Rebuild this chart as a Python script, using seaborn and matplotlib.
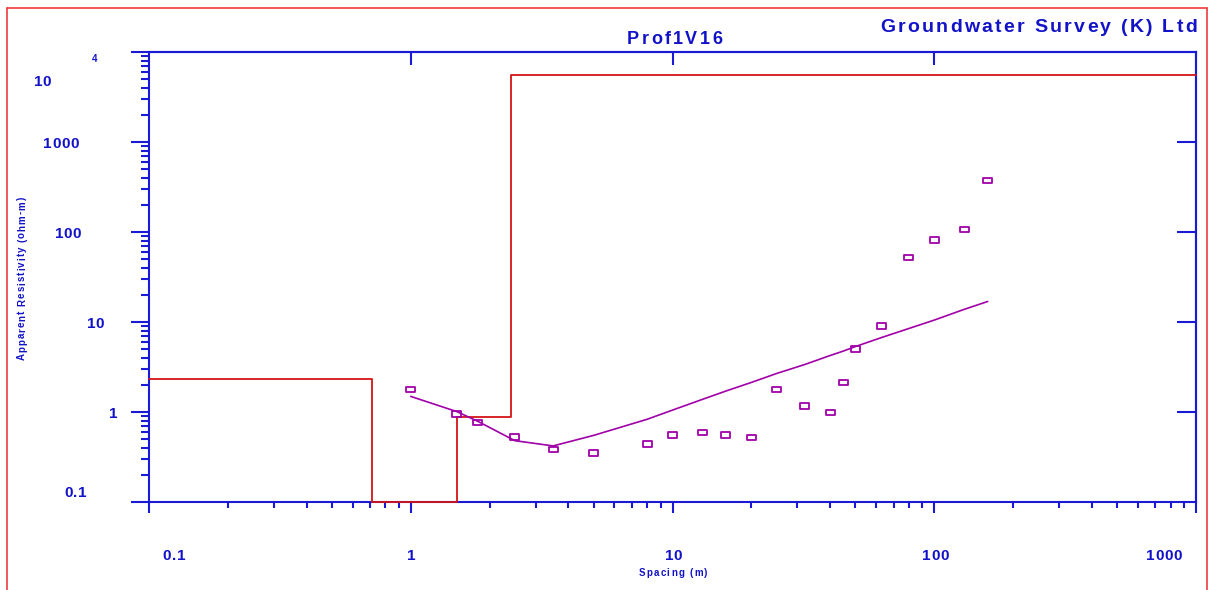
import matplotlib
matplotlib.use("Agg")
import matplotlib.pyplot as plt
from matplotlib.path import Path
from matplotlib.lines import Line2D
from matplotlib.ticker import FixedLocator, NullLocator, LogLocator
from matplotlib.font_manager import FontProperties
import seaborn as sns

# Sounding observations: electrode spacing (m) and apparent resistivity (ohm-m)
spacing = [1, 1.5, 1.8, 2.5, 3.5, 5, 8, 10, 13, 16, 20, 25, 32, 40, 45, 50, 63, 80, 100, 130, 160]
observed = [1.79, 0.95, 0.77, 0.53, 0.385, 0.35, 0.44, 0.555, 0.595, 0.555, 0.52,
            1.79, 1.16, 0.98, 2.12, 5.0, 9.0, 51.8, 81.5, 106, 371]
# Calculated response of the layered model at the same spacings
model_response = [1.49, 1.01, 0.79, 0.48, 0.42, 0.55, 0.83, 1.05, 1.38, 1.71, 2.13,
                  2.68, 3.37, 4.24, 4.76, 5.34, 6.73, 8.47, 10.5, 13.8, 16.9]
# Layered earth model: top depth of each layer (m) and its resistivity (ohm-m)
layer_top = [0.1, 0.71, 1.5, 2.42, 1000]
layer_res = [2.33, 0.1, 0.89, 5550, 5550]

x_ticks = [0.1, 1, 10, 100, 1000]
x_tick_labels = ["0.1", "1", "10", "100", "1000"]
y_ticks = [0.1, 1, 10, 100, 1000, 10000]
y_tick_labels = ["0.1", "1", "10", "100", "1000", "10"]

title = "Prof1V16"
company = "Groundwater Survey (K) Ltd"
x_label = "Spacing (m)"
y_label = "Apparent Resistivity (ohm-m)"

BLUE = "#1a1ad6"
TEXT_BLUE = "#1212c8"
RED = "#d41414"
FRAME_RED = "#ee3b3b"
PURPLE = "#a000a8"
FONT = "Liberation Sans"

sns.set_style("white")
plt.rcParams["font.family"] = [FONT, "DejaVu Sans"]

W, H = 1209, 590
fig = plt.figure(figsize=(W / 100, H / 100), dpi=100)
ax = fig.add_axes([149 / W, 1 - 502 / H, (1196 - 149) / W, (502 - 52) / H])
ax.set_xscale("log")
ax.set_yscale("log")
ax.set_xlim(0.1, 1000)
ax.set_ylim(0.1, 10000)

# layered model as a step curve
sns.lineplot(x=layer_top, y=layer_res, drawstyle="steps-post", color=RED, linewidth=1.3,
             estimator=None, sort=False, ax=ax, clip_on=False, zorder=4)
# model response curve
sns.lineplot(x=spacing, y=model_response, color=PURPLE, linewidth=1.2,
             estimator=None, sort=False, ax=ax, zorder=4)
# observed points as small hollow rectangles
rect = Path([(-1, -0.6), (1, -0.6), (1, 0.6), (-1, 0.6), (-1, -0.6)],
            [Path.MOVETO, Path.LINETO, Path.LINETO, Path.LINETO, Path.CLOSEPOLY])
sns.scatterplot(x=spacing, y=observed, marker=rect, s=42, facecolor="none",
                edgecolor=PURPLE, linewidth=1.3, ax=ax, zorder=5)

# axes frame and ticks
for sp in ax.spines.values():
    sp.set_color(BLUE)
    sp.set_linewidth(1.5)
ax.xaxis.set_major_locator(FixedLocator(x_ticks))
ax.yaxis.set_major_locator(FixedLocator(y_ticks))
ax.xaxis.set_minor_locator(LogLocator(base=10, subs=range(2, 10), numticks=20))
ax.yaxis.set_minor_locator(LogLocator(base=10, subs=range(2, 10), numticks=20))
ax.tick_params(which="both", bottom=True, left=True, top=False, right=False,
               labelbottom=False, labelleft=False, direction="out", color=BLUE, width=1.5)
ax.tick_params(axis="x", which="major", length=8)
ax.tick_params(axis="x", which="minor", length=4.5)
ax.tick_params(axis="y", which="major", length=13)
ax.tick_params(axis="y", which="minor", length=6)
ax.grid(False)

top = ax.secondary_xaxis("top")
top.set_xticks([1, 10, 100])
top.xaxis.set_minor_locator(NullLocator())
top.tick_params(axis="x", which="both", top=True, direction="in", length=9, width=1.5,
                color=BLUE, labeltop=False, labelbottom=False)
top.spines["top"].set_color(BLUE)
top.spines["top"].set_linewidth(1.5)

right = ax.secondary_yaxis("right")
right.set_yticks([1, 10, 100, 1000])
right.yaxis.set_minor_locator(NullLocator())
right.tick_params(axis="y", which="both", right=True, direction="in", length=14, width=1.5,
                  color=BLUE, labelright=False, labelleft=False)
right.spines["right"].set_color(BLUE)
right.spines["right"].set_linewidth(1.5)

fig.canvas.draw()
renderer = fig.canvas.get_renderer()


def tracked_text(s, x, y, size, track=None, width=None, align="left", rotation=0,
                 color=TEXT_BLUE):
    """Draw bold text with extra letter spacing; x, y in pixels from the top-left."""
    prop = FontProperties(family=FONT, weight="bold", size=size)
    base = renderer.get_text_width_height_descent("||", prop, ismath=False)[0]
    adv = [renderer.get_text_width_height_descent("|" + ch + "|", prop, ismath=False)[0] - base
           for ch in s]
    if width is not None:
        track = (width - sum(adv)) / max(len(s) - 1, 1)
    track = track or 0
    total = sum(adv) + track * (len(s) - 1)
    pos = {"left": 0, "center": -total / 2, "right": -total}[align]
    for ch, a in zip(s, adv):
        if ch != " ":
            if rotation == 0:
                fig.text((x + pos) / W, 1 - y / H, ch, fontproperties=prop, color=color,
                         ha="left", va="baseline")
            else:
                fig.text(x / W, 1 - (y - pos) / H, ch, fontproperties=prop, color=color,
                         rotation=90, rotation_mode="anchor", ha="left", va="center")
        pos += a + track


def to_px(xv, yv):
    px, py = ax.transData.transform((xv, yv))
    return px, H - py


# x tick labels
x_shift = [25, 0, 1, 1, -32]
for val, lab, dx in zip(x_ticks, x_tick_labels, x_shift):
    px, _ = to_px(val, 1)
    tracked_text(lab, px + dx, 560, 11, track=0.6, align="center")

# y tick labels
y_centers = [75.5, 113, 95.5, 68, 61, 42.5]
y_shift = [-10, 1, 1, 1, 1, 29]
for val, lab, cx, dy in zip(y_ticks, y_tick_labels, y_centers, y_shift):
    _, py = to_px(1, val)
    tracked_text(lab, cx, py + dy + 5.4, 11, track=0.6, align="center")
_, ptop = to_px(1, 10000)
tracked_text("4", 94.5, ptop + 9.5, 7, align="center")

# titles and axis labels
tracked_text(title, 674.5, 44.5, 13, width=95, align="center")
tracked_text(company, 1197, 32, 14, width=317, align="right")
tracked_text(x_label, 673, 575.5, 7, width=69, align="center")
tracked_text(y_label, 22, 278.5, 7, width=163, align="center", rotation=90)

# page frame
for xs, ys in [([7, 7], [8, H]), ([7, 1207], [8, 8]), ([1207, 1207], [8, H])]:
    fig.add_artist(Line2D([v / W for v in xs], [1 - v / H for v in ys],
                          transform=fig.transFigure, color=FRAME_RED, linewidth=1.2))

fig.savefig("out.png", dpi=100, facecolor="white")
